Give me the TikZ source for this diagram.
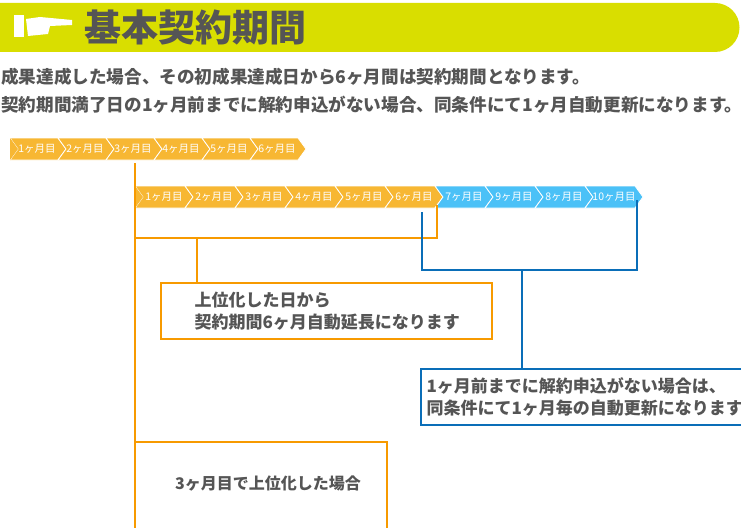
\documentclass[tikz,border=0pt]{standalone}
\usepackage{fontspec}
\setmainfont{Noto Sans CJK JP}
\usetikzlibrary{positioning}
\definecolor{headgreen}{HTML}{D9DE00}
\definecolor{headtext}{HTML}{555555}
\definecolor{chevorange}{HTML}{F7B733}
\definecolor{chevblue}{HTML}{4BC1F7}
\definecolor{lineorange}{HTML}{F79A00}
\definecolor{lineblue}{HTML}{0A6EB8}
\tikzset{
  chev/.style={draw=white,line width=0.8pt},
  chevtext/.style={text=white,font=\fontsize{10.5}{10.5}\selectfont,inner sep=0pt},
  oline/.style={lineorange,line width=2pt},
  bline/.style={lineblue,line width=2pt},
  notebox/.style={draw,line width=2pt,fill=white,anchor=north west,inner sep=0pt,align=left,font=\bfseries\fontsize{17}{22}\selectfont,text=headtext},
}
% chevron: #1 left x, #2 top y, #3 width, #4 colour
\newcommand{\chevron}[4]{%
  \fill[#4,chev] (#1,#2) -- ++(#3,0) -- ++(8,11) -- ++(-8,11) -- ++(-#3,0) -- ++(8,-11) -- cycle;}
\begin{document}
\begin{tikzpicture}[x=1pt,y=-1pt]
\useasboundingbox (0,0) rectangle (741,527);
% header
\fill[headgreen] (0,3) -- (715,3) arc[start angle=-90,end angle=90,radius=24.5] -- (0,52) -- cycle;
\fill[white] (14,15) rectangle (24,37);
\fill[white] (26,19) -- (40,17) -- (72,20) -- (72,25) -- (50,26) -- (48,34) -- (28,36) -- cycle;
\node[anchor=west,text=headtext,font=\bfseries\fontsize{37}{37}\selectfont,inner sep=0pt] (title) at (84,27) {基本契約期間};
\node[anchor=north west,align=left,text=headtext,font=\bfseries\fontsize{17.6}{28}\selectfont,inner sep=0pt] (intro) at (1,68)
  {成果達成した場合、その初成果達成日から6ヶ月間は契約期間となります。\\
   契約期間満了日の1ヶ月前までに解約申込がない場合、同条件にて1ヶ月自動更新になります。};
% first timeline
\foreach \i in {1,...,6}{
  \pgfmathsetmacro{\xl}{10+(\i-1)*48}
  \chevron{\xl}{138}{48}{chevorange}
  \node[chevtext] (a\i) at (\xl+27,149) {\i ヶ月目};
}
\fill[chevorange] (10,138) -- (18,149) -- (10,160) -- cycle;
% second timeline
\foreach \lab [count=\i] in {1,2,3,4,5,6,7,9,8,10}{
  \pgfmathsetmacro{\xl}{135+(\i-1)*50}
  \ifnum\i<7 \def\cc{chevorange}\else\def\cc{chevblue}\fi
  \chevron{\xl}{186}{50}{\cc}
  \node[chevtext] (b\i) at (\xl+29,197) {\lab ヶ月目};
}
\fill[chevorange] (135,186) -- (143,197) -- (135,208) -- cycle;
% boxes
\node[notebox,draw=lineorange,minimum width=331pt,minimum height=56pt,text width=320pt] (up) at (160,282)
  {\hspace*{28pt}上位化した日から\\\hspace*{28pt}契約期間6ヶ月自動延長になります};
\node[notebox,draw=lineblue,minimum width=340pt,minimum height=56pt,text width=335pt] (renew) at (420,368)
  {\hspace*{3pt}1ヶ月前までに解約申込がない場合は、\\\hspace*{3pt}同条件にて1ヶ月毎の自動更新になります。};
\draw[oline,fill=white] (387,531) -- (387,442) -- (135,442) -- (135,531);
\node[text=headtext,font=\bfseries\fontsize{16}{16}\selectfont] (case) at (268,484) {3ヶ月目で上位化した場合};
% connectors
\coordinate (o1) at (135,163);
\coordinate (o2) at (135,442);
\draw[oline] (o1) -- (o2);
\draw[oline] (437,205) -- (437,238) -- (135,238);
\draw[oline] (197,238) -- (up.north west -| 197,282);
\draw[bline] (422,212) -- (422,270) -- (637,270) -- (637,200);
\draw[bline] (522,270) -- (renew.north west -| 522,368);
\end{tikzpicture}
\end{document}
